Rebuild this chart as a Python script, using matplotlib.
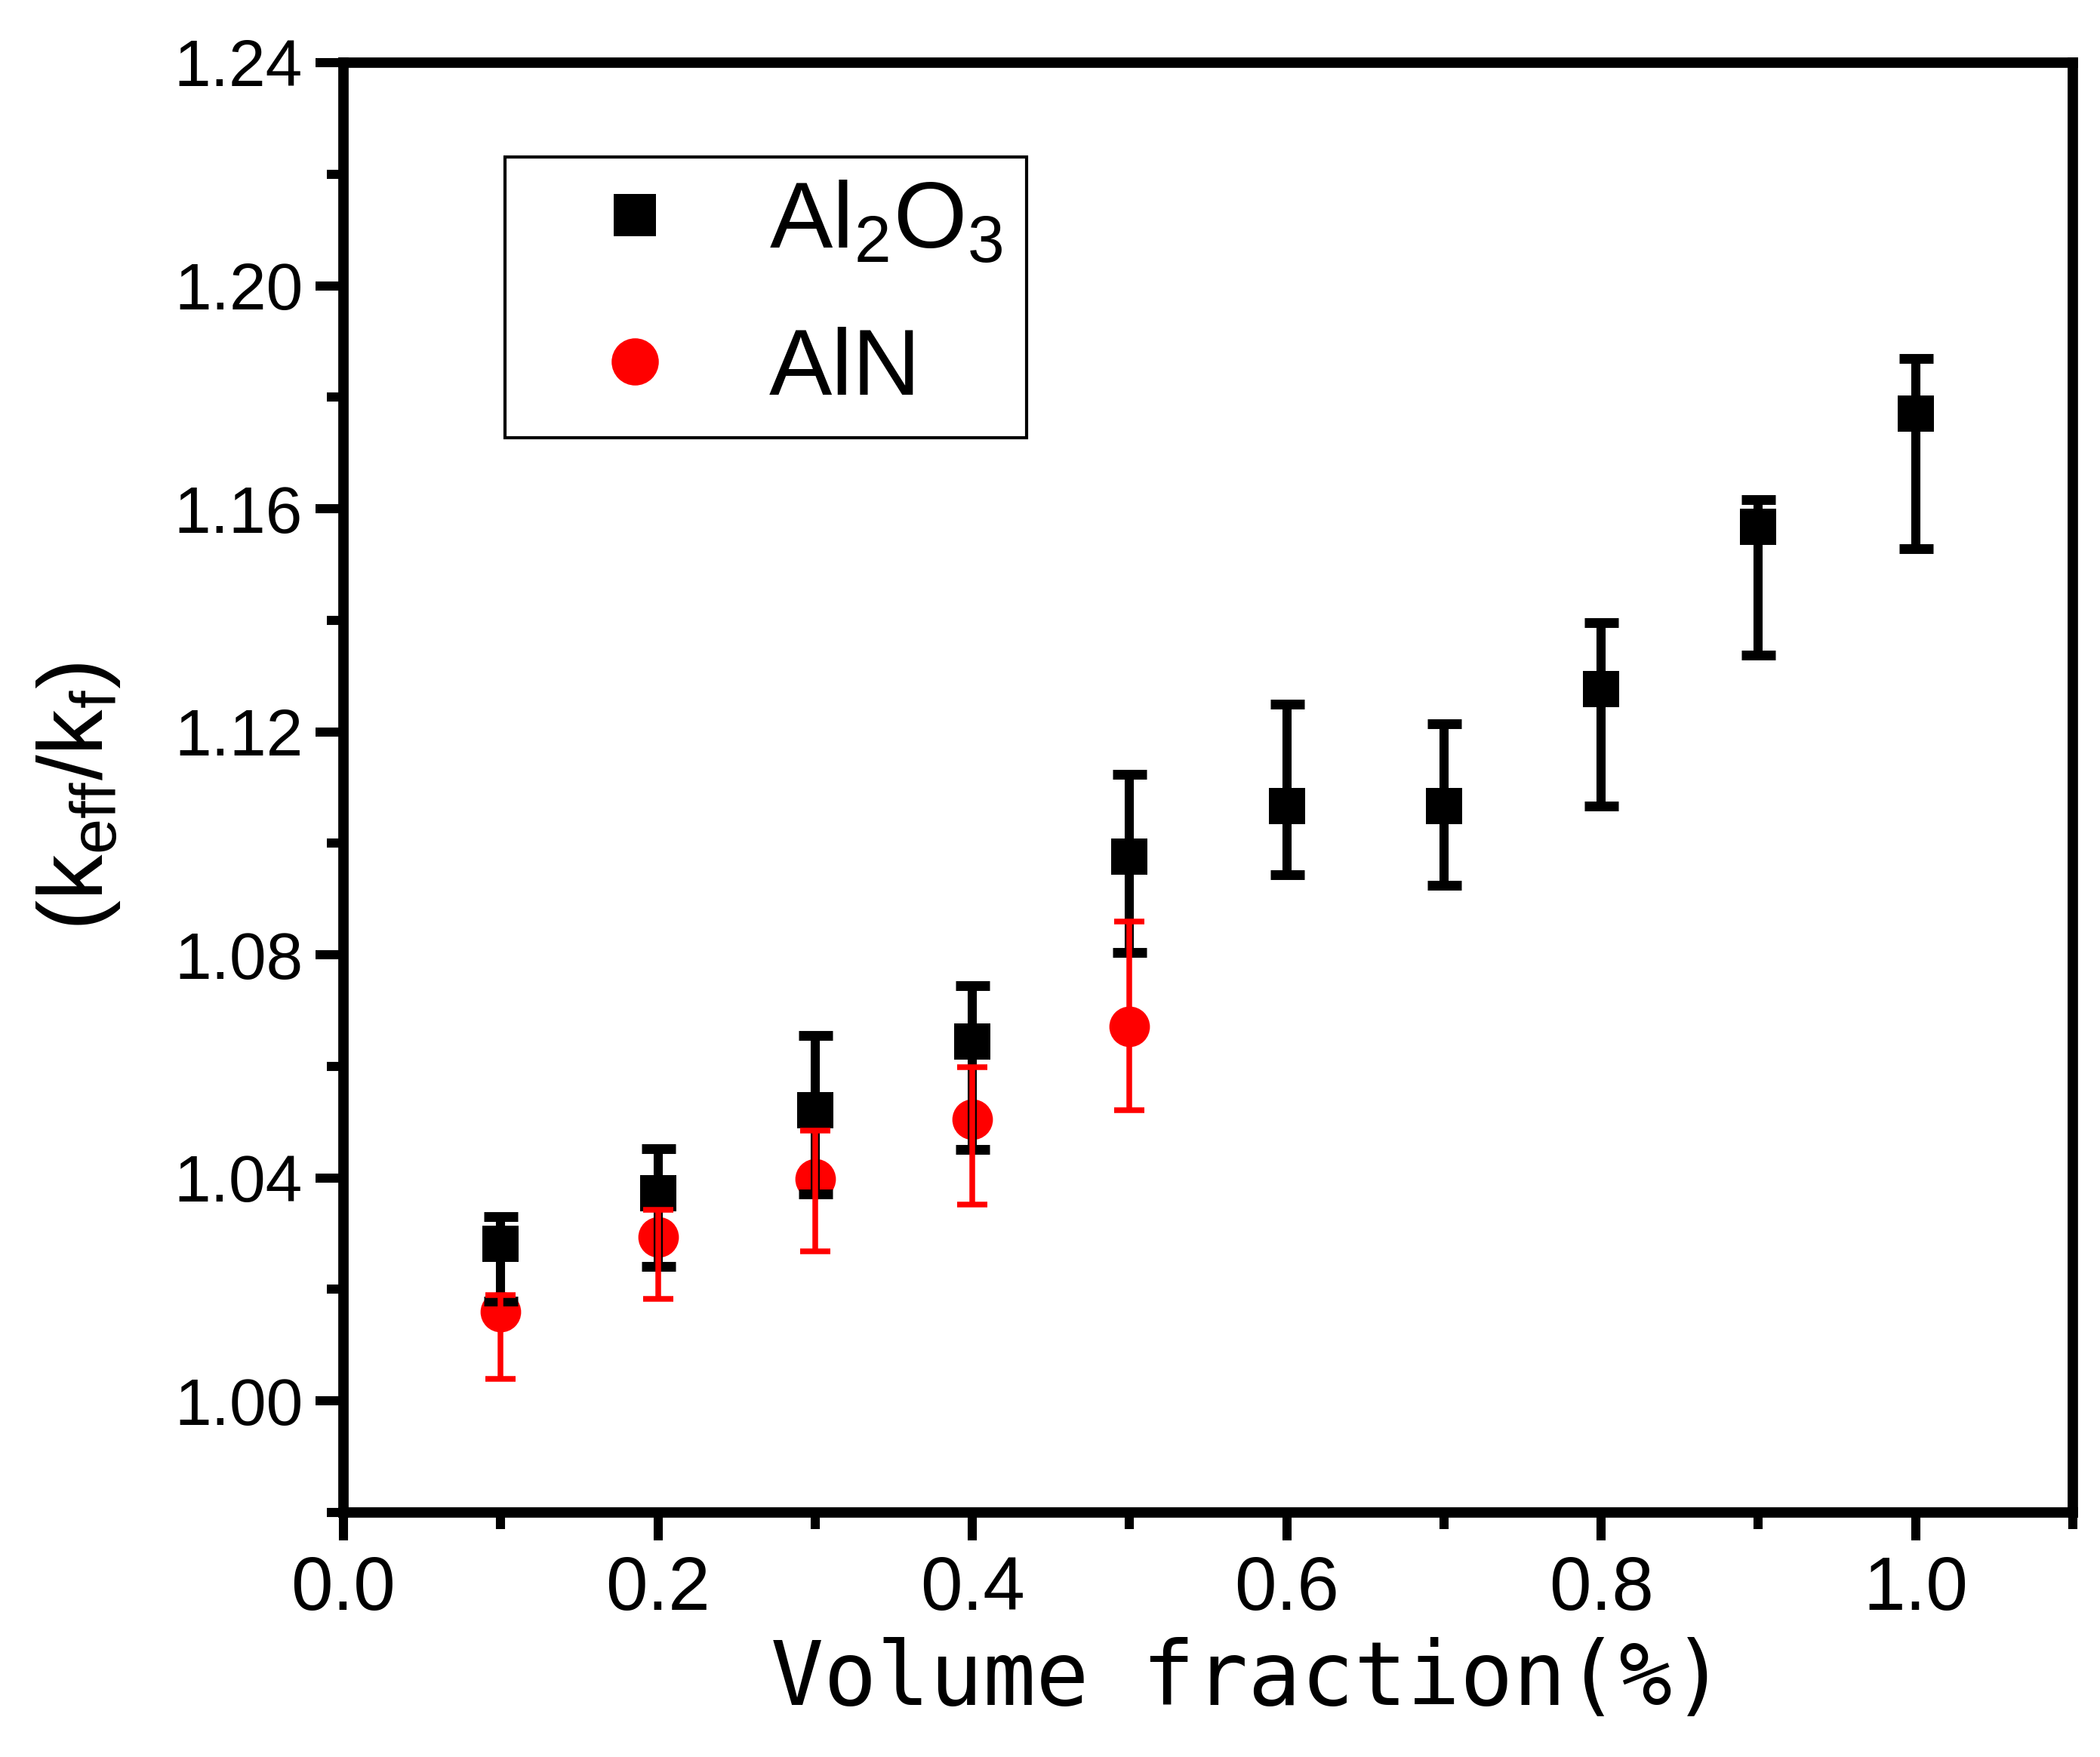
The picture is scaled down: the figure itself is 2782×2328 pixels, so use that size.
import matplotlib
matplotlib.use("Agg")
import matplotlib.pyplot as plt
from matplotlib.lines import Line2D
from matplotlib.ticker import MultipleLocator, FormatStrFormatter

plt.rcParams["font.family"] = ["Liberation Sans", "DejaVu Sans"]
plt.rcParams["mathtext.default"] = "regular"

# Al2O3 series (value, upper and lower end of the error bar)
x_al2o3 = [0.1, 0.2, 0.3, 0.4, 0.5, 0.6, 0.7, 0.8, 0.9, 1.0]
y_al2o3 = [1.0282, 1.0372, 1.0521, 1.0644, 1.0976, 1.1067, 1.1067, 1.1277, 1.1568, 1.1770]
hi_al2o3 = [1.0330, 1.0452, 1.0656, 1.0745, 1.1124, 1.1249, 1.1215, 1.1396, 1.1617, 1.1870]
lo_al2o3 = [1.0179, 1.0241, 1.0371, 1.0451, 1.0804, 1.0944, 1.0925, 1.1067, 1.1338, 1.1529]

# AlN series
x_aln = [0.1, 0.2, 0.3, 0.4, 0.5]
y_aln = [1.0160, 1.0294, 1.0398, 1.0505, 1.0672]
hi_aln = [1.0190, 1.0343, 1.0485, 1.0598, 1.0860]
lo_aln = [1.0039, 1.0183, 1.0268, 1.0352, 1.0521]

labels = ["Al$_2$O$_3$", "AlN"]

err_al2o3 = [[y - lo for y, lo in zip(y_al2o3, lo_al2o3)],
             [hi - y for y, hi in zip(y_al2o3, hi_al2o3)]]
err_aln = [[y - lo for y, lo in zip(y_aln, lo_aln)],
           [hi - y for y, hi in zip(y_aln, hi_aln)]]

fig = plt.figure(figsize=(2782 / 300, 2328 / 300), dpi=300)
ax = fig.add_axes([0.16355, 0.13918, 0.82351, 0.82517])

# red circles sit under the black bars, red bars on top
ax.plot(x_aln, y_aln, linestyle="none", marker="o", markersize=12.9,
        color="red", markeredgewidth=0, zorder=2)
ax.errorbar(x_al2o3, y_al2o3, yerr=err_al2o3, fmt="none", ecolor="black",
            elinewidth=2.9, capsize=5.4, capthick=3.1, zorder=3)
ax.plot(x_al2o3, y_al2o3, linestyle="none", marker="s", markersize=11.5,
        color="black", markeredgewidth=0, zorder=3.5)
ax.errorbar(x_aln, y_aln, yerr=err_aln, fmt="none", ecolor="red",
            elinewidth=1.8, capsize=4.9, capthick=1.8, zorder=4)

ax.set_xlim(0.0, 1.1)
ax.set_ylim(0.98, 1.24)
ax.xaxis.set_major_locator(MultipleLocator(0.2))
ax.xaxis.set_minor_locator(MultipleLocator(0.1))
ax.yaxis.set_major_locator(MultipleLocator(0.04))
ax.yaxis.set_minor_locator(MultipleLocator(0.02))
ax.xaxis.set_major_formatter(FormatStrFormatter("%.1f"))
ax.yaxis.set_major_formatter(FormatStrFormatter("%.2f"))

for sp in ax.spines.values():
    sp.set_linewidth(3.3)
ax.tick_params(which="both", direction="out", top=False, right=False, width=2.9)
ax.tick_params(which="major", length=8.9)
ax.tick_params(which="minor", length=5.3)
ax.tick_params(axis="x", which="major", labelsize=24, pad=4.5)
ax.tick_params(axis="y", which="major", labelsize=21, pad=4.0)

ax.set_xlabel("Volume fraction(%)", fontsize=28, family=["DejaVu Sans Mono"], va="center")
ax.xaxis.set_label_coords(0.523, -0.1156)
ax.set_ylabel("(k$_{eff}$/k$_f$)", fontsize=29, va="center")
ax.yaxis.set_label_coords(-0.153, 0.494)

handles = [
    Line2D([], [], linestyle="none", marker="s", color="black", markersize=13.5, markeredgewidth=0),
    Line2D([], [], linestyle="none", marker="o", color="red", markersize=15, markeredgewidth=0),
]
leg = ax.legend(handles, labels, loc="upper left", bbox_to_anchor=(0.0934, 0.935),
                borderaxespad=0, fancybox=False, edgecolor="black", framealpha=1,
                fontsize=30, borderpad=0.25, handlelength=2.25, handletextpad=0.3,
                labelspacing=0.62, numpoints=1)
leg.get_frame().set_linewidth(1.0)

fig.savefig("out.png", dpi=300)
